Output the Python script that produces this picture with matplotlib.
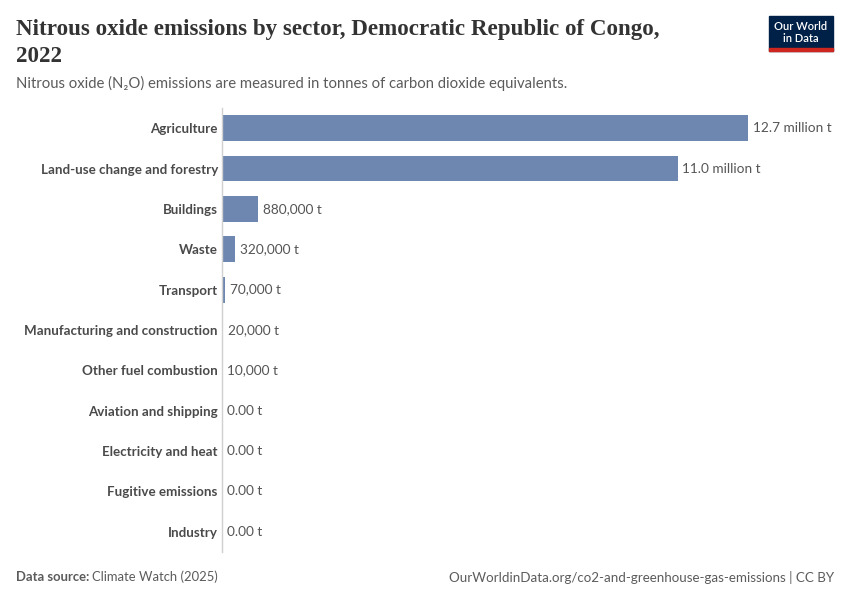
import matplotlib.pyplot as plt
from matplotlib.patches import Rectangle

## data
sectors = [
    "Agriculture",
    "Land-use change and forestry",
    "Buildings",
    "Waste",
    "Transport",
    "Manufacturing and construction",
    "Other fuel combustion",
    "Aviation and shipping",
    "Electricity and heat",
    "Fugitive emissions",
    "Industry",
]
emissions = [12.7e6, 11.0e6, 880000, 320000, 70000, 20000, 10000, 0, 0, 0, 0]
value_labels = [
    "12.7 million t", "11.0 million t", "880,000 t", "320,000 t",
    "70,000 t", "20,000 t", "10,000 t", "0.00 t", "0.00 t", "0.00 t", "0.00 t",
]

plt.rcParams["font.family"] = ["Lato", "DejaVu Sans"]

W, H = 850, 600
fig = plt.figure(figsize=(W / 100, H / 100), dpi=100)

## axes placed in pixel coords
left, right, top, bottom = 222, 748, 108, 552
ax = fig.add_axes([left / W, 1 - bottom / H, (right - left) / W, (bottom - top) / H])

ypos = list(range(len(sectors)))
ax.barh(ypos, emissions, height=0.64, color="#6D87B0")
ax.set_xlim(0, 12.7e6)
ax.set_ylim(len(sectors) - 0.5, -0.5)

for y, v, lab in zip(ypos, emissions, value_labels):
    ax.text(v + 12.7e6 * 0.009, y, lab, va="center", ha="left",
            fontsize=9.8, color="#555555", clip_on=False)

ax.set_yticks(ypos)
ax.set_yticklabels(sectors, fontsize=9.6, color="#4a4a4a", fontweight="bold")
ax.tick_params(axis="y", length=0, pad=3)
ax.set_xticks([])
for s in ["top", "right", "bottom"]:
    ax.spines[s].set_visible(False)
ax.spines["left"].set_color("#d0d0d0")
ax.spines["left"].set_linewidth(1)

## title and subtitle
serif = ["Liberation Serif", "DejaVu Serif"]
fig.text(16 / W, 1 - 30 / H, "Nitrous oxide emissions by sector, Democratic Republic of Congo,",
         fontsize=16.6, family=serif, color="#333333",
         va="center", ha="left", fontweight="bold")
fig.text(16 / W, 1 - 56 / H, "2022",
         fontsize=16.6, family=serif, color="#333333",
         va="center", ha="left", fontweight="bold")
fig.text(16 / W, 1 - 83 / H,
         "Nitrous oxide (N\u2082O) emissions are measured in tonnes of carbon dioxide equivalents.",
         fontsize=10.7, color="#5b5b5b", va="center", ha="left")

## footer
src = fig.text(16 / W, 1 - 577 / H, "Data source:", fontsize=9.4, color="#5b5b5b",
               fontweight="bold", va="center", ha="left")
fig.canvas.draw()
bb = src.get_window_extent()
fig.text((bb.x1 + 3) / W, 1 - 577 / H, "Climate Watch (2025)", fontsize=9.4, color="#5b5b5b",
         va="center", ha="left")
fig.text(834 / W, 1 - 577 / H, "OurWorldinData.org/co2-and-greenhouse-gas-emissions | CC BY",
         fontsize=9.6, color="#5b5b5b", va="center", ha="right")

## logo
fig.patches.append(Rectangle((769 / W, 1 - 51 / H), 64 / W, 35 / H,
                             transform=fig.transFigure, color="#002147"))
fig.patches.append(Rectangle((769 / W, 1 - 51 / H), 64 / W, 3 / H,
                             transform=fig.transFigure, color="#CE261E"))
fig.text(801 / W, 1 - 27 / H, "Our World", fontsize=8, color="white",
         va="center", ha="center", fontweight="semibold")
fig.text(801 / W, 1 - 39 / H, "in Data", fontsize=8, color="white",
         va="center", ha="center", fontweight="semibold")

plt.savefig("out.png", dpi=100)
